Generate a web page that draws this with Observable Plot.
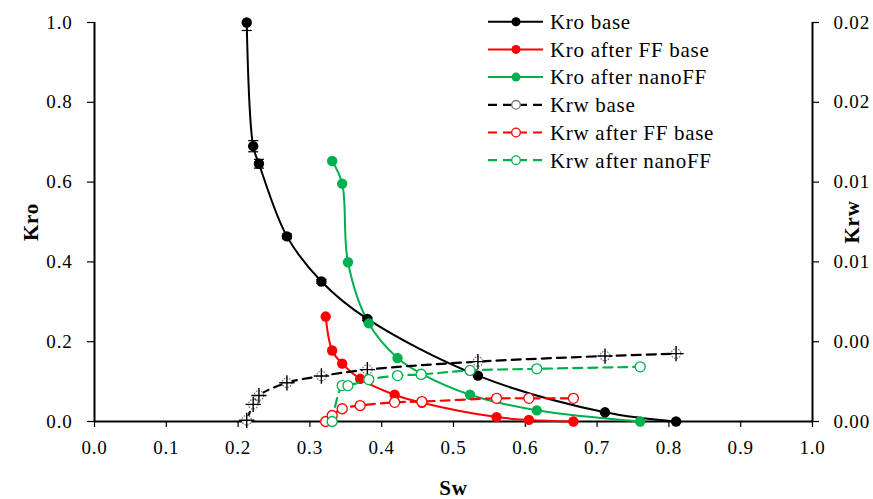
<!DOCTYPE html>
<html><head><meta charset="utf-8">
<script src="https://cdn.jsdelivr.net/npm/d3@7"></script>
<script src="https://cdn.jsdelivr.net/npm/@observablehq/plot@0.6"></script>
<style>body{margin:0;background:#fff}</style>
</head><body><div id="chart"></div>
<script>
// ---- data ----
const swBase   = [0.212, 0.221, 0.229, 0.268, 0.316, 0.380, 0.534, 0.711, 0.810];
const kroBase  = [1.000, 0.690, 0.646, 0.464, 0.351, 0.257, 0.115, 0.023, 0.000];
const kroBaseErr = [0.020, 0.014, 0.011, 0.006, 0.005, 0.004, 0.003, 0.002, 0.001];
const krwBase  = [0.00006, 0.00086, 0.00130, 0.00194, 0.00228, 0.00260, 0.00300, 0.00328, 0.00340];

const swFF     = [0.322, 0.331, 0.345, 0.370, 0.418, 0.456, 0.560, 0.605, 0.667];
const kroFF    = [0.263, 0.178, 0.145, 0.107, 0.067, 0.047, 0.011, 0.004, 0.000];
const krwFF    = [0.00000, 0.00030, 0.00064, 0.00080, 0.00096, 0.00100, 0.00116, 0.00116, 0.00116];

const swNano   = [0.331, 0.345, 0.353, 0.382, 0.422, 0.455, 0.523, 0.616, 0.760];
const kroNano  = [0.653, 0.596, 0.399, 0.246, 0.159, 0.120, 0.067, 0.028, 0.000];
const krwNano  = [0.00000, 0.00180, 0.00180, 0.00210, 0.00230, 0.00236, 0.00256, 0.00264, 0.00274];

const xTicks   = [0, 0.1, 0.2, 0.3, 0.4, 0.5, 0.6, 0.7, 0.8, 0.9, 1.0];
const kroTicks = [0, 0.2, 0.4, 0.6, 0.8, 1.0];
const krwTicks = [0, 0.004, 0.008, 0.012, 0.016, 0.020];
const KRW_AXIS_MAX = 0.02;

const seriesNames = ["Kro base","Kro after FF base","Kro after nanoFF","Krw base","Krw after FF base","Krw after nanoFF"];
const seriesColors = ["#000000","#FF0000","#00B050","#000000","#FF0000","#00B050"];

// ---- tables ----
const rows = (sw, v) => sw.map((s, i) => ({sw: s, v: v[i], i}));
const kroBaseRows = rows(swBase, kroBase).map(d => ({...d, err: kroBaseErr[d.i]}));
const kroFFRows = rows(swFF, kroFF);
const kroNanoRows = rows(swNano, kroNano);
const krwBaseRows = rows(swBase, krwBase);
const krwFFRows = rows(swFF, krwFF);
const krwNanoRows = rows(swNano, krwNano);
const toLeft = k => k / KRW_AXIS_MAX; // secondary axis mapped onto the primary scale

const font = "'Liberation Serif', 'DejaVu Serif', serif";
const curve = "catmull-rom";
const kroLine = (data, color) => Plot.line(data, {x: "sw", y: "v", stroke: color, strokeWidth: 2, curve});
const kroDot = (data, color) => Plot.dot(data, {x: "sw", y: "v", fill: color, r: 5.2});
const krwLine = (data, color) => Plot.line(data, {x: "sw", y: d => toLeft(d.v), stroke: color, strokeWidth: 2.2, strokeDasharray: "9,6", curve});
const krwDot = (data, color) => Plot.dot(data, {x: "sw", y: d => toLeft(d.v), stroke: color, fill: "white", r: 5, strokeWidth: 1.3});

const chart = Plot.plot({
  width: 873, height: 499,
  marginLeft: 94, marginRight: 61, marginTop: 22, marginBottom: 78,
  style: {fontFamily: font, fontSize: "19px", letterSpacing: "0.8px", color: "black", background: "white", overflow: "visible"},
  x: {domain: [0, 1]},
  y: {domain: [0, 1]},
  marks: [
    Plot.axisX({ticks: xTicks, tickFormat: d => d.toFixed(1), tickSize: 6, tickPadding: 13, label: null, strokeWidth: 1.2}),
    Plot.axisY({ticks: kroTicks, tickFormat: d => d.toFixed(1), tickSize: 7, tickPadding: 15, label: null, strokeWidth: 1.2}),
    Plot.axisY({anchor: "right", ticks: krwTicks.map(toLeft), tickFormat: d => (d * KRW_AXIS_MAX).toFixed(2), tickSize: 6, tickPadding: 15, label: null, strokeWidth: 1.2}),
    Plot.ruleX([0, 1], {strokeWidth: 2}),
    Plot.ruleY([0], {strokeWidth: 2}),
    Plot.text(["Sw"], {frameAnchor: "bottom", textAnchor: "middle", lineAnchor: "middle", dy: 67, fontWeight: "bold", fontSize: 21}),
    Plot.text(["Kro"], {frameAnchor: "left", textAnchor: "middle", lineAnchor: "middle", dx: -63, rotate: -90, fontWeight: "bold", fontSize: 21}),
    Plot.text(["Krw"], {frameAnchor: "right", textAnchor: "middle", lineAnchor: "middle", dx: 40, rotate: -90, fontWeight: "bold", fontSize: 21}),
    // Kro series
    kroLine(kroBaseRows, seriesColors[0]),
    kroLine(kroFFRows, seriesColors[1]),
    kroLine(kroNanoRows, seriesColors[2]),
    Plot.ruleX(kroBaseRows, {x: "sw", y1: d => d.v - d.err, y2: d => Math.min(1, d.v + d.err), stroke: "black", strokeWidth: 1.2}),
    Plot.link(kroBaseRows, {x1: d => d.sw - 0.007, x2: d => d.sw + 0.007, y1: d => d.v - d.err, y2: d => d.v - d.err, stroke: "black", strokeWidth: 1.2}),
    Plot.link(kroBaseRows.filter(d => d.v + d.err <= 1), {x1: d => d.sw - 0.007, x2: d => d.sw + 0.007, y1: d => d.v + d.err, y2: d => d.v + d.err, stroke: "black", strokeWidth: 1.2}),
    kroDot(kroBaseRows, seriesColors[0]),
    kroDot(kroFFRows, seriesColors[1]),
    kroDot(kroNanoRows, seriesColors[2]),
    // Krw series (secondary axis)
    krwLine(krwBaseRows, seriesColors[3]),
    krwLine(krwFFRows, seriesColors[4]),
    krwLine(krwNanoRows, seriesColors[5]),
    Plot.dot(krwBaseRows, {x: "sw", y: d => toLeft(d.v), stroke: "#777", fill: "white", r: 4.8, strokeWidth: 1.2, strokeDasharray: "1.5,1.2"}),
    Plot.dot(krwBaseRows, {x: "sw", y: d => toLeft(d.v), symbol: "plus", stroke: "black", r: 5, strokeWidth: 1.4}),
    krwDot(krwFFRows, seriesColors[4]),
    krwDot(krwNanoRows, seriesColors[5])
  ]
});
document.getElementById("chart").append(chart);

// ---- legend (top right inside the plot) ----
const svg = d3.select(chart);
const lg = svg.append("g").attr("font-family", font).attr("font-size", 21).attr("letter-spacing", "0.7px");
seriesNames.forEach((name, i) => {
  const y = 21.7 + 27.7 * i;
  const g = lg.append("g").attr("transform", `translate(0,${y})`);
  const isKrw = i >= 3;
  g.append("line").attr("x1", 488).attr("x2", 543).attr("y1", 0).attr("y2", 0)
    .attr("stroke", seriesColors[i]).attr("stroke-width", isKrw ? 2.2 : 2)
    .attr("stroke-dasharray", isKrw ? "9,6" : null);
  if (isKrw) {
    g.append("circle").attr("cx", 516).attr("cy", 0).attr("r", 4.3).attr("fill", "white")
      .attr("stroke", i === 3 ? "#777" : seriesColors[i]).attr("stroke-width", 1.3);
  } else {
    g.append("circle").attr("cx", 516).attr("cy", 0).attr("r", 4.5).attr("fill", seriesColors[i]);
  }
  g.append("text").attr("x", 550).attr("y", 0).attr("dy", "0.35em")
    .attr("text-anchor", "start").attr("fill", "black").text(name);
});
</script>
</body></html>
